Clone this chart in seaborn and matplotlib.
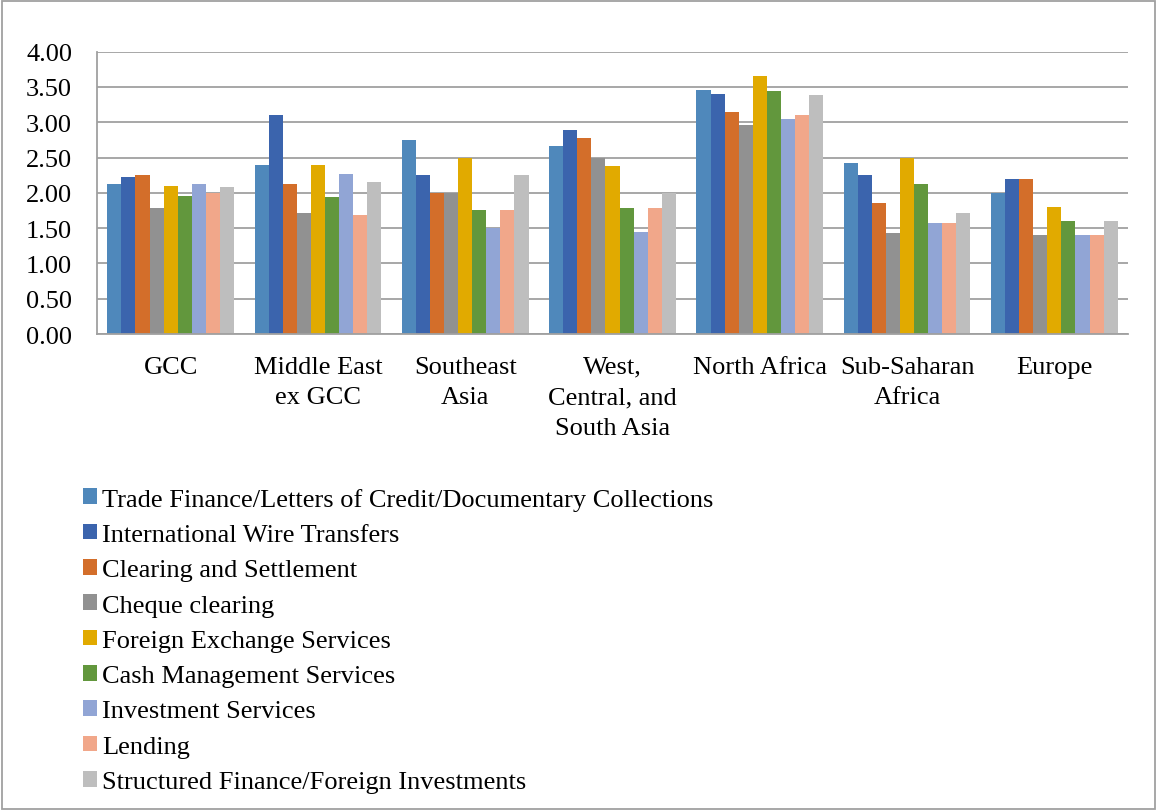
import pandas as pd
import matplotlib.pyplot as plt
import matplotlib.patches as mpatches
import seaborn as sns

regions = ["GCC", "Middle East\nex GCC", "Southeast\nAsia", "West,\nCentral, and\nSouth Asia",
           "North Africa", "Sub-Saharan\nAfrica", "Europe"]

services = [
    "Trade Finance/Letters of Credit/Documentary Collections",
    "International Wire Transfers",
    "Clearing and Settlement",
    "Cheque clearing",
    "Foreign Exchange Services",
    "Cash Management Services",
    "Investment Services",
    "Lending",
    "Structured Finance/Foreign Investments",
]

# values per service, one entry per region
trade_finance = [2.13, 2.39, 2.75, 2.67, 3.46, 2.43, 2.00]
wire_transfers = [2.22, 3.11, 2.25, 2.89, 3.40, 2.25, 2.20]
clearing = [2.26, 2.12, 2.00, 2.78, 3.15, 1.86, 2.20]
cheque = [1.78, 1.72, 2.00, 2.50, 2.96, 1.43, 1.40]
fx = [2.09, 2.39, 2.50, 2.38, 3.65, 2.50, 1.80]
cash_mgmt = [1.96, 1.94, 1.75, 1.78, 3.44, 2.13, 1.60]
investment = [2.13, 2.27, 1.50, 1.44, 3.04, 1.57, 1.40]
lending = [2.00, 1.69, 1.75, 1.78, 3.11, 1.57, 1.40]
structured = [2.08, 2.16, 2.25, 2.00, 3.39, 1.71, 1.60]

series = [trade_finance, wire_transfers, clearing, cheque, fx,
          cash_mgmt, investment, lending, structured]

colors = ["#4F88BB", "#3B64AD", "#D36E2A", "#919191", "#E1AA00",
          "#62973D", "#91A5D5", "#F1A78A", "#BEBEBE"]

rows = []
for name, vals in zip(services, series):
    for reg, v in zip(regions, vals):
        rows.append({"region": reg, "service": name, "score": v})
df = pd.DataFrame(rows)

sns.set_style("white")
plt.rcParams["font.family"] = ["Liberation Serif", "DejaVu Serif"]
plt.rcParams["text.color"] = "black"

fig = plt.figure(figsize=(11.57, 8.12), dpi=100)
ax = fig.add_axes([97 / 1157, 1 - 335 / 812, (1128 - 97) / 1157, (335 - 52.7) / 812])

sns.barplot(data=df, x="region", y="score", hue="service", order=regions,
            hue_order=services, palette=colors, width=0.86, gap=0,
            linewidth=0, saturation=1, ax=ax, legend=True)

ax.set_ylim(0, 4)
ax.set_xlim(-0.5, len(regions) - 0.5)
ax.set_yticks([i * 0.5 for i in range(9)])
ax.set_yticklabels([f"{i * 0.5:.2f}" for i in range(9)])
ax.yaxis.grid(True, color="#A0A0A0", linewidth=1.3)
ax.set_axisbelow(True)
ax.set_xlabel("")
ax.set_ylabel("")

for s in ["top", "right"]:
    ax.spines[s].set_visible(False)
for s in ["left", "bottom"]:
    ax.spines[s].set_color("#A0A0A0")
    ax.spines[s].set_linewidth(1.3)

ax.tick_params(axis="y", length=9, width=1.3, color="#A0A0A0", labelsize=19, pad=9, labelcolor="black")
ax.tick_params(axis="x", which="major", length=0, labelsize=19, pad=15.5, labelcolor="black")
ax.set_xticks([i - 0.5 for i in range(len(regions) + 1)], minor=True)
ax.tick_params(axis="x", which="minor", length=8, width=1.3, color="#A0A0A0")
for lbl in ax.get_xticklabels():
    lbl.set_linespacing(1.5)
    lbl.set_verticalalignment("top")

handles, labels = ax.get_legend_handles_labels()
ax.get_legend().remove()
fig.legend(handles, labels, loc="upper left", bbox_to_anchor=(72 / 1157, 1 - 478 / 812),
           frameon=False, fontsize=19, handlelength=0.53, handleheight=0.53,
           handletextpad=0.2, labelspacing=0.5, borderaxespad=0)

fig.add_artist(mpatches.Rectangle((2 / 1157, 2 / 812), 1 - 4 / 1157, 1 - 4 / 812,
                                  transform=fig.transFigure, fill=False,
                                  edgecolor="#A0A0A0", linewidth=1.3))

fig.savefig("out.png", dpi=100)
